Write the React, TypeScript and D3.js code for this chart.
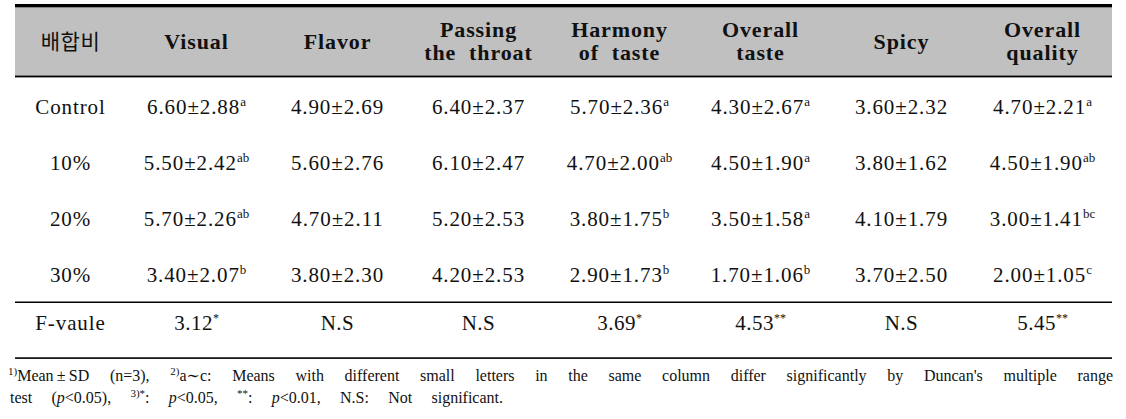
import React, { useEffect, useRef } from "react";
import * as d3 from "d3";

const rowLabels = ["Control", "10%", "20%", "30%"];
const headerLabel = "배합비";
const attributes = [
  "Visual",
  "Flavor",
  "Passing the throat",
  "Harmony of taste",
  "Overall taste",
  "Spicy",
  "Overall quality",
];
const headerLines = [
  ["Visual"],
  ["Flavor"],
  ["Passing", "the  throat"],
  ["Harmony", "of  taste"],
  ["Overall", "taste"],
  ["Spicy"],
  ["Overall", "quality"],
];

const meansControl = ["6.60", "4.90", "6.40", "5.70", "4.30", "3.60", "4.70"];
const means10 = ["5.50", "5.60", "6.10", "4.70", "4.50", "3.80", "4.50"];
const means20 = ["5.70", "4.70", "5.20", "3.80", "3.50", "4.10", "3.00"];
const means30 = ["3.40", "3.80", "4.20", "2.90", "1.70", "3.70", "2.00"];

const sdControl = ["2.88", "2.69", "2.37", "2.36", "2.67", "2.32", "2.21"];
const sd10 = ["2.42", "2.76", "2.47", "2.00", "1.90", "1.62", "1.90"];
const sd20 = ["2.26", "2.11", "2.53", "1.75", "1.58", "1.79", "1.41"];
const sd30 = ["2.07", "2.30", "2.53", "1.73", "1.06", "2.50", "1.05"];

const lettersControl = ["a", "", "", "a", "a", "", "a"];
const letters10 = ["ab", "", "", "ab", "a", "", "ab"];
const letters20 = ["ab", "", "", "b", "a", "", "bc"];
const letters30 = ["b", "", "", "b", "b", "", "c"];

const fLabel = "F-vaule";
const fValues = ["3.12", "N.S", "N.S", "3.69", "4.53", "N.S", "5.45"];
const fStars = ["*", "", "", "*", "**", "", "**"];

const footnoteLine1 = [
  { t: "1)", sup: true },
  { t: "Mean\u2009±\u2009SD (n=3), " },
  { t: "2)", sup: true },
  { t: "a∼c: Means with different small letters in the same column differ significantly by Duncan's multiple range" },
];
const footnoteLine2 = [
  { t: "test (" },
  { t: "p", it: true },
  { t: "<0.05), " },
  { t: "3)*", sup: true },
  { t: ": " },
  { t: "p", it: true },
  { t: "<0.05, " },
  { t: "**", sup: true },
  { t: ": " },
  { t: "p", it: true },
  { t: "<0.01, N.S: Not significant." },
];

const allMeans = [meansControl, means10, means20, means30];
const allSd = [sdControl, sd10, sd20, sd30];
const allLetters = [lettersControl, letters10, letters20, letters30];

const SERIF = "Liberation Serif, DejaVu Serif, serif";

export default function App() {
  const ref = useRef<SVGSVGElement | null>(null);

  useEffect(() => {
    const svg = d3.select(ref.current);
    svg.selectAll("*").remove();

    const left = 15;
    const right = 1113;
    const firstColRight = 126;

    const x = d3.scaleBand<string>().domain(attributes).range([firstColRight, right]);
    const y = d3.scalePoint<string>().domain(rowLabels).range([114, 282]);
    const labelX = (left + firstColRight) / 2;
    const cx = (a: string) => (x(a) as number) + x.bandwidth() / 2;

    // header background and rules
    svg.append("rect").attr("x", left).attr("y", 7).attr("width", right - left - 1).attr("height", 69).attr("fill", "#c0c0c0");
    svg.append("rect").attr("x", left).attr("y", 4).attr("width", right - left - 1).attr("height", 3.3).attr("fill", "#000");
    svg.append("rect").attr("x", left).attr("y", 75.6).attr("width", right - left - 1).attr("height", 1.8).attr("fill", "#000");
    svg.append("rect").attr("x", left).attr("y", 301.5).attr("width", right - left - 1).attr("height", 1.5).attr("fill", "#000");
    svg.append("rect").attr("x", left).attr("y", 357.3).attr("width", right - left - 1).attr("height", 1.6).attr("fill", "#000");

    // header
    svg.append("text")
      .attr("x", labelX).attr("y", 49)
      .attr("text-anchor", "middle")
      .attr("font-family", "Noto Sans CJK KR, sans-serif")
      .attr("font-size", 21)
      .attr("letter-spacing", 0.5)
      .attr("fill", "#111")
      .text(headerLabel);

    attributes.forEach((a, i) => {
      const lines = headerLines[i];
      const ys = lines.length === 1 ? [49] : [37, 60];
      lines.forEach((ln, j) => {
        svg.append("text")
          .attr("x", cx(a)).attr("y", ys[j])
          .attr("text-anchor", "middle")
          .style("font-family", SERIF)
          .attr("font-weight", "bold")
          .attr("font-size", 22)
          .attr("letter-spacing", 0.9)
          .style("white-space", "pre")
          .attr("fill", "#111")
          .text(ln);
      });
    });

    // body rows
    rowLabels.forEach((r, ri) => {
      const yy = y(r) as number;
      svg.append("text")
        .attr("x", labelX).attr("y", yy)
        .attr("text-anchor", "middle")
        .style("font-family", SERIF)
        .attr("font-size", 21)
        .attr("letter-spacing", 0.9)
        .attr("fill", "#111")
        .text(r);
      attributes.forEach((a, ci) => {
        const t = svg.append("text")
          .attr("x", cx(a)).attr("y", yy)
          .attr("text-anchor", "middle")
          .style("font-family", SERIF)
          .attr("font-size", 21)
          .attr("letter-spacing", 0.9)
          .attr("fill", "#111");
        t.append("tspan").text(`${allMeans[ri][ci]}±${allSd[ri][ci]}`);
        const lt = allLetters[ri][ci];
        if (lt) {
          t.append("tspan").attr("dy", -8).attr("font-size", 13).attr("letter-spacing", 0).text(lt);
        }
      });
    });

    // F row
    const fy = 330;
    svg.append("text")
      .attr("x", labelX).attr("y", fy)
      .attr("text-anchor", "middle")
      .style("font-family", SERIF)
      .attr("font-size", 21)
      .attr("letter-spacing", 0.9)
      .attr("fill", "#111")
      .text(fLabel);
    attributes.forEach((a, ci) => {
      const t = svg.append("text")
        .attr("x", cx(a)).attr("y", fy)
        .attr("text-anchor", "middle")
        .style("font-family", SERIF)
        .attr("font-size", 21)
        .attr("letter-spacing", 0.5)
        .attr("fill", "#111");
      t.append("tspan").text(fValues[ci]);
      if (fStars[ci]) {
        t.append("tspan").attr("dy", -8).attr("font-size", 12).attr("letter-spacing", 0).text(fStars[ci]);
      }
    });

    // footnotes
    const drawFoot = (segs: any[], xStart: number, baseY: number, targetW: number | null) => {
      const t = svg.append("text")
        .attr("x", xStart).attr("y", baseY)
        .style("font-family", SERIF)
        .attr("font-size", 16)
        .attr("fill", "#111")
        .style("white-space", "pre");
      let raised = false;
      segs.forEach((s) => {
        const sp = t.append("tspan").text(s.t);
        if (s.sup) {
          sp.attr("font-size", 11).attr("dy", raised ? 0 : -6);
          raised = true;
        } else {
          if (raised) sp.attr("dy", 6);
          raised = false;
        }
        if (s.it) sp.attr("font-style", "italic");
      });
      if (targetW) {
        const node = t.node() as SVGTextElement;
        const natural = node.getComputedTextLength();
        const spaces = segs.map((s) => s.t).join("").split(" ").length - 1;
        const ws = (targetW - natural) / Math.max(1, spaces);
        t.attr("word-spacing", ws);
      }
    };
    drawFoot(footnoteLine1, 8, 381, 1105);
    drawFoot(footnoteLine2, 10, 403, 493);
  }, []);

  return (
    <svg
      ref={ref}
      width={1126}
      height={419}
      style={{ position: "absolute", left: 0, top: 0, background: "#fff" }}
    />
  );
}
